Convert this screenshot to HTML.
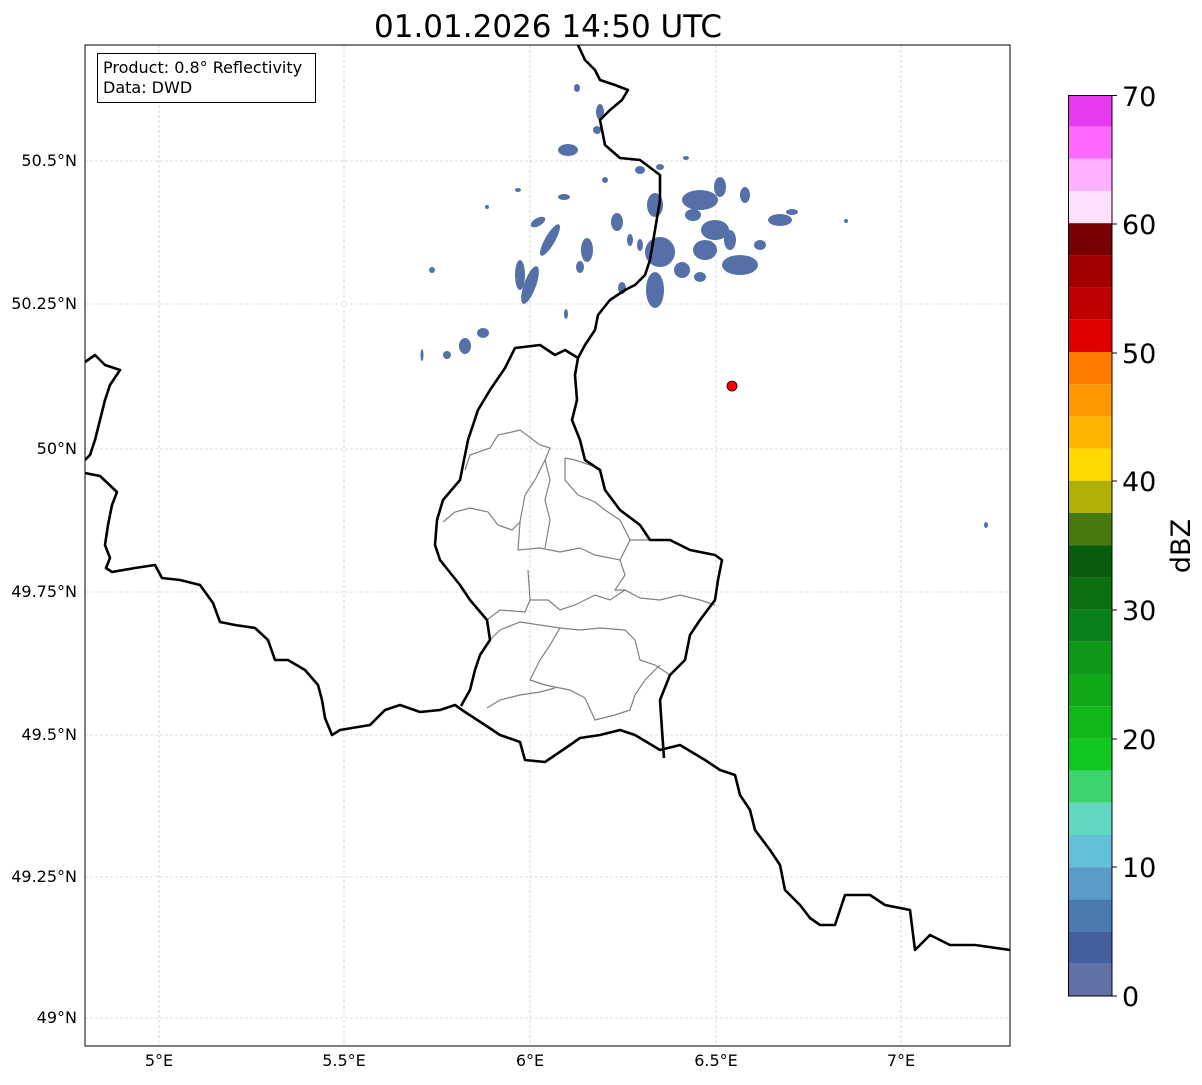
<!DOCTYPE html>
<html><head><meta charset="utf-8"><style>
html,body{margin:0;padding:0;background:#fff;}
body{width:1202px;height:1081px;overflow:hidden;font-family:"DejaVu Sans","Liberation Sans",sans-serif;}
</style></head><body>
<svg width="1202" height="1081" xmlns="http://www.w3.org/2000/svg" font-family="DejaVu Sans, Liberation Sans, sans-serif">
<rect width="1202" height="1081" fill="#fff"/>
<text x="548" y="37" font-size="31" text-anchor="middle" fill="#000">01.01.2026 14:50 UTC</text>
<defs><clipPath id="c"><rect x="85" y="45" width="925" height="1001"/></clipPath></defs>
<g clip-path="url(#c)">
<g stroke="#c0c0c0" stroke-width="0.6" stroke-dasharray="3,2" fill="none">
<line x1="85" y1="161" x2="1010" y2="161"/><line x1="85" y1="304" x2="1010" y2="304"/><line x1="85" y1="449" x2="1010" y2="449"/><line x1="85" y1="592" x2="1010" y2="592"/><line x1="85" y1="735" x2="1010" y2="735"/><line x1="85" y1="877" x2="1010" y2="877"/><line x1="85" y1="1018" x2="1010" y2="1018"/>
<line x1="159" y1="45" x2="159" y2="1046"/><line x1="344" y1="45" x2="344" y2="1046"/><line x1="530" y1="45" x2="530" y2="1046"/><line x1="716" y1="45" x2="716" y2="1046"/><line x1="901" y1="45" x2="901" y2="1046"/>
</g>
<g fill="#5570a8">
<ellipse cx="655" cy="205" rx="8" ry="12"/><ellipse cx="700" cy="200" rx="18" ry="10"/><ellipse cx="720" cy="187" rx="6" ry="10"/><ellipse cx="745" cy="195" rx="5" ry="8"/>
<ellipse cx="780" cy="220" rx="12" ry="6"/><ellipse cx="792" cy="212" rx="6" ry="3"/><ellipse cx="715" cy="230" rx="14" ry="10"/><ellipse cx="705" cy="250" rx="12" ry="10"/>
<ellipse cx="740" cy="265" rx="18" ry="10"/><ellipse cx="730" cy="240" rx="6" ry="10"/><ellipse cx="660" cy="252" rx="15" ry="15"/><ellipse cx="655" cy="290" rx="9" ry="18"/>
<ellipse cx="682" cy="270" rx="8" ry="8"/><ellipse cx="700" cy="277" rx="6" ry="5"/><ellipse cx="693" cy="215" rx="8" ry="6"/><ellipse cx="640" cy="170" rx="5" ry="4"/>
<ellipse cx="660" cy="167" rx="4" ry="3"/><ellipse cx="760" cy="245" rx="6" ry="5"/>
<ellipse cx="520" cy="275" rx="5" ry="15"/><ellipse cx="530" cy="285" rx="6" ry="20" transform="rotate(20 530 285)"/><ellipse cx="550" cy="240" rx="5" ry="18" transform="rotate(30 550 240)"/>
<ellipse cx="538" cy="222" rx="8" ry="4" transform="rotate(-30 538 222)"/><ellipse cx="564" cy="197" rx="6" ry="3"/><ellipse cx="587" cy="250" rx="6" ry="12"/><ellipse cx="580" cy="267" rx="4" ry="6"/>
<ellipse cx="617" cy="222" rx="6" ry="9"/><ellipse cx="630" cy="240" rx="3" ry="6"/><ellipse cx="640" cy="245" rx="3" ry="6"/><ellipse cx="568" cy="150" rx="10" ry="6"/>
<ellipse cx="600" cy="112" rx="4" ry="8"/><ellipse cx="597" cy="130" rx="4" ry="4"/><ellipse cx="518" cy="190" rx="3" ry="2"/><ellipse cx="487" cy="207" rx="2" ry="2"/>
<ellipse cx="432" cy="270" rx="3" ry="3"/><ellipse cx="465" cy="346" rx="6" ry="8"/><ellipse cx="483" cy="333" rx="6" ry="5"/><ellipse cx="447" cy="355" rx="4" ry="4"/>
<ellipse cx="422" cy="355" rx="1.5" ry="6"/><ellipse cx="577" cy="88" rx="3" ry="4"/><ellipse cx="566" cy="314" rx="2" ry="5"/><ellipse cx="622" cy="288" rx="4" ry="6"/>
<ellipse cx="986" cy="525" rx="2" ry="3"/><ellipse cx="846" cy="221" rx="2" ry="2"/><ellipse cx="686" cy="158" rx="3" ry="2"/><ellipse cx="605" cy="180" rx="3" ry="3"/>
</g>
<g stroke="#808080" stroke-width="1.2" fill="none">
<polyline points="443,522 455,512 470,508 488,512 498,525 512,530 520,522 525,495 535,480 545,460 550,448 540,445 520,430 512,432 498,435 490,448 470,455 465,470"/>
<polyline points="520,522 518,550 540,548 560,552 580,548 595,555 620,560 630,540 650,540"/>
<polyline points="545,460 550,480 545,500 550,520 545,548"/>
<polyline points="565,458 565,480 578,495 595,502 605,510 620,520 630,540"/>
<polyline points="565,458 575,460 590,465 600,470"/>
<polyline points="528,570 530,600 525,612 500,610 487,620"/>
<polyline points="530,600 548,600 560,610 575,605 595,595 610,600 625,590 640,598 660,600 680,595 700,600 715,605"/>
<polyline points="620,560 625,575 615,590 625,590"/>
<polyline points="490,640 500,630 520,622 540,625 560,628 580,630 600,628 625,630 635,640 640,660 655,665 670,675"/>
<polyline points="560,628 550,645 540,660 530,680 545,685 570,690 585,698 595,720 615,715 630,710 635,695 645,680 660,665"/>
<polyline points="487,708 500,700 520,695 540,692 555,688"/>
</g>
<g stroke="#000" stroke-width="2.6" fill="none" stroke-linejoin="round">
<polyline points="85,473 100,476 117,492 112,505 108,525 105,545 110,558 106,568 112,572 135,568 155,565 162,578 180,580 200,585 213,603 220,622 235,625 255,628 268,640 275,660 288,660 305,670 318,685 322,700 325,718 332,735 340,730 370,725 385,710 400,705 420,712 440,710 455,705 465,712 485,725 500,735 520,742 525,760 545,762 570,745 580,738 600,735 620,730 635,735 660,750 680,745 705,760 720,770 735,775 740,795 750,810 755,830 770,850 780,865 785,890 800,905 810,918 820,925 835,925 845,895 870,895 885,905 910,910 915,950 930,935 950,945 975,945 1010,950"/>
<polyline points="461,706 470,690 475,670 480,655 490,640 487,620 470,600 460,585 440,560 435,545 437,520 443,500 460,480 465,455 468,440 478,410 490,390 505,368 515,348 540,345 555,355 565,350 578,358 575,375 577,400 572,420 580,440 585,460 600,470 605,490 620,510 640,525 650,540 670,540 690,550 715,555 722,560 718,580 715,600 700,620 690,635 685,660 670,675 660,700 662,730 664,758"/>
<polyline points="578,358 585,345 595,330 598,315 610,300 625,290 635,285 645,275 650,260 655,230 660,200 660,175 640,160 620,158 605,145 600,120 610,110 622,100 628,90 615,85 600,80 595,70 585,60 578,45"/>
<polyline points="85,362 95,355 105,365 120,370 110,385 105,400 100,420 95,440 90,455 85,460"/>
</g>
<circle cx="732" cy="386" r="5" fill="#ff0000" stroke="#000" stroke-width="0.8"/>
</g>
<rect x="85" y="45" width="925" height="1001" fill="none" stroke="#000" stroke-width="1"/>
<rect x="97.5" y="53.5" width="218" height="49" fill="#fff" stroke="#000" stroke-width="1"/>
<text x="103" y="73" font-size="16">Product: 0.8° Reflectivity</text>
<text x="103" y="93" font-size="16">Data: DWD</text>
<g font-size="16" text-anchor="end">
<text x="77" y="166">50.5°N</text><text x="77" y="309">50.25°N</text><text x="77" y="454">50°N</text><text x="77" y="597">49.75°N</text><text x="77" y="740">49.5°N</text><text x="77" y="882">49.25°N</text><text x="77" y="1023">49°N</text>
</g>
<g font-size="16" text-anchor="middle">
<text x="159" y="1066">5°E</text><text x="344" y="1066">5.5°E</text><text x="530" y="1066">6°E</text><text x="716" y="1066">6.5°E</text><text x="901" y="1066">7°E</text>
</g>
<g>
<rect x="1068" y="95" width="44" height="31.6" fill="#e838f0"/>
<rect x="1068" y="126.6" width="44" height="32.2" fill="#ff68ff"/>
<rect x="1068" y="158.8" width="44" height="32.2" fill="#ffb0ff"/>
<rect x="1068" y="191" width="44" height="32.2" fill="#ffe0ff"/>
<rect x="1068" y="223.2" width="44" height="32.2" fill="#780000"/>
<rect x="1068" y="255.4" width="44" height="32.2" fill="#a00000"/>
<rect x="1068" y="287.6" width="44" height="32.2" fill="#c00000"/>
<rect x="1068" y="319.8" width="44" height="32.2" fill="#e00000"/>
<rect x="1068" y="352" width="44" height="32.2" fill="#ff7c00"/>
<rect x="1068" y="384.2" width="44" height="32.2" fill="#ff9800"/>
<rect x="1068" y="416.4" width="44" height="32.2" fill="#ffb400"/>
<rect x="1068" y="448.6" width="44" height="32.2" fill="#ffd800"/>
<rect x="1068" y="480.8" width="44" height="32.2" fill="#b0b008"/>
<rect x="1068" y="513" width="44" height="32.2" fill="#487810"/>
<rect x="1068" y="545.2" width="44" height="32.2" fill="#085c0c"/>
<rect x="1068" y="577.4" width="44" height="32.2" fill="#0a7010"/>
<rect x="1068" y="609.6" width="44" height="32.2" fill="#0a8018"/>
<rect x="1068" y="641.8" width="44" height="32.2" fill="#0e9818"/>
<rect x="1068" y="674" width="44" height="32.2" fill="#10a818"/>
<rect x="1068" y="706.2" width="44" height="32.2" fill="#10b818"/>
<rect x="1068" y="738.4" width="44" height="32.2" fill="#10c820"/>
<rect x="1068" y="770.6" width="44" height="32.2" fill="#3cd46c"/>
<rect x="1068" y="802.8" width="44" height="32.2" fill="#60d8c0"/>
<rect x="1068" y="835" width="44" height="32.2" fill="#64c0d8"/>
<rect x="1068" y="867.2" width="44" height="32.2" fill="#5a9cc8"/>
<rect x="1068" y="899.4" width="44" height="32.2" fill="#4a7ab0"/>
<rect x="1068" y="931.6" width="44" height="32.2" fill="#4260a0"/>
<rect x="1068" y="963.8" width="44" height="32.2" fill="#6272a6"/>
<rect x="1068.5" y="95.5" width="43.5" height="900.5" fill="none" stroke="#000" stroke-width="1"/>
</g>
<g stroke="#000" stroke-width="1">
<line x1="1112" y1="95.5" x2="1117" y2="95.5"/><line x1="1112" y1="224" x2="1117" y2="224"/><line x1="1112" y1="353" x2="1117" y2="353"/><line x1="1112" y1="481" x2="1117" y2="481"/><line x1="1112" y1="610" x2="1117" y2="610"/><line x1="1112" y1="739" x2="1117" y2="739"/><line x1="1112" y1="867" x2="1117" y2="867"/><line x1="1112" y1="996" x2="1117" y2="996"/>
</g>
<g font-size="27">
<text x="1122" y="106">70</text><text x="1122" y="234">60</text><text x="1122" y="363">50</text><text x="1122" y="491">40</text><text x="1122" y="620">30</text><text x="1122" y="749">20</text><text x="1122" y="877">10</text><text x="1122" y="1006">0</text>
</g>
<text x="1190" y="546" font-size="27" text-anchor="middle" transform="rotate(-90 1190 546)">dBZ</text>
</svg>
</body></html>
